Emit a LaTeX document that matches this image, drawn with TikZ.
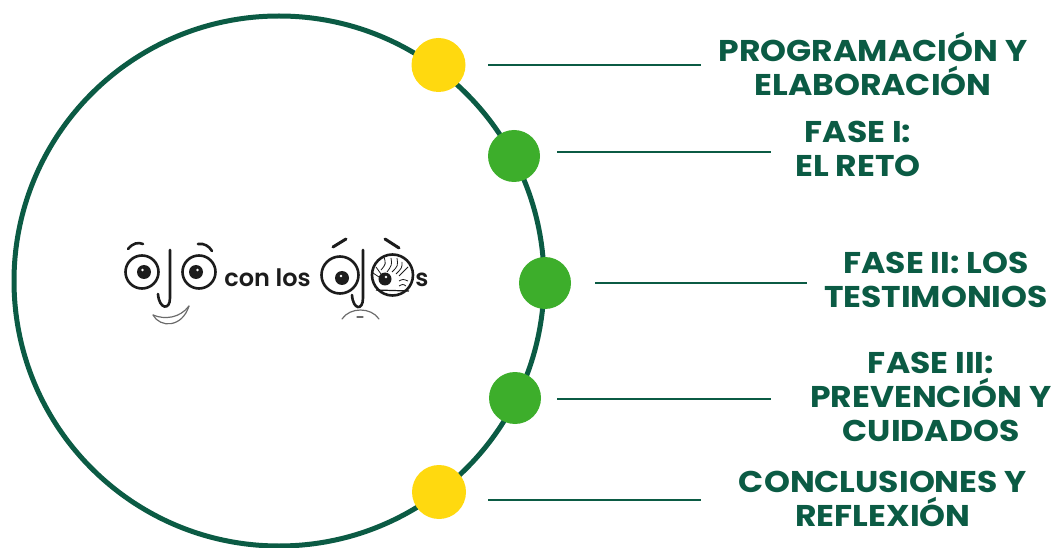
\documentclass[tikz,border=0pt]{standalone}
\usepackage{fontspec}
\setmainfont{Poppins}
\newfontfamily\labfont[FakeStretch=1.10]{Poppins Bold}
\newfontfamily\wordfont{Poppins SemiBold}
\definecolor{dgreen}{HTML}{0B5B44}
\definecolor{ink}{HTML}{1C1C1C}
\definecolor{yel}{HTML}{FFD90F}
\definecolor{grn}{HTML}{3DAE2B}
\tikzset{
 lab/.style={font=\labfont\fontsize{30}{34}\selectfont,text=dgreen,align=center,inner sep=0pt},
 dotY/.style={circle,fill=yel,minimum size=54,inner sep=0pt},
 dotG/.style={circle,fill=grn,minimum size=52,inner sep=0pt},
 conn/.style={draw=dgreen,line width=2.2},
 ring/.style={circle,draw=dgreen,line width=5,minimum size=530,inner sep=0pt},
 fc/.style={draw=ink,line width=2.6,line cap=round},
 fcg/.style={draw=ink!65,line width=1.2,line cap=round},
 word/.style={font=\wordfont\fontsize{24}{26}\selectfont,text=ink,inner sep=0pt}
}
\begin{document}
\begin{tikzpicture}[x=1pt,y=-1pt]
\useasboundingbox (0,0) rectangle (1061,548);
\node[ring] (big) at (279,281) {};
\node[dotY] (d1) at (438.5,65) {};
\node[dotG] (d2) at (514,156) {};
\node[dotG] (d3) at (545,283) {};
\node[dotG] (d4) at (515,398) {};
\node[dotY] (d5) at (439,492) {};
\coordinate (s1) at (488,65); \coordinate (e1) at (701,65);
\coordinate (s2) at (557,152); \coordinate (e2) at (771,152);
\coordinate (s3) at (595,283); \coordinate (e3) at (807,283);
\coordinate (s4) at (557,399); \coordinate (e4) at (771,399);
\coordinate (s5) at (488,500); \coordinate (e5) at (701,500);
\foreach \i in {1,...,5} \draw[conn] (s\i) -- (e\i);
\node[lab] (t1) at (873,64) {PROGRAMACIÓN Y\\ELABORACIÓN};
\node[lab] (t2) at (858,149) {FASE I:\\EL RETO};
\node[lab] (t3) at (936,280) {FASE II: LOS\\TESTIMONIOS};
\node[lab] (t4) at (931,397) {FASE III:\\PREVENCIÓN Y\\CUIDADOS};
\node[lab] (t5) at (883,499) {CONCLUSIONES Y\\REFLEXIÓN};
% first face
\draw[fc] (142,272) circle (16.5);
\draw[fc] (199,272) circle (16.5);
\fill[ink] (144,272) circle (7);
\fill[ink] (196,272) circle (7);
\fill[white] (142.5,270) circle (1.4);
\fill[white] (197.5,270) circle (1.4);
\draw[fc] (128,249) .. controls (133,243) and (138,242) .. (143,244);
\draw[fc] (198,244) .. controls (204,243) and (209,246) .. (212,251);
\draw[fc] (170,250) -- (170,298) .. controls (170,311) and (159,309) .. (158,294);
\draw[fcg] (153,315) .. controls (160,328) and (182,328) .. (189,306);
\draw[fcg] (153,315) .. controls (165,320) and (180,318) .. (189,306);
\node[word] (w1) at (267.5,278) {con los};
% second face
\draw[fc] (340,275) circle (18.5);
\draw[fc] (392.5,275) circle (20.5);
\fill[ink] (342,278) circle (7);
\fill[ink] (385,279) circle (6.5);
\fill[white] (341,276) circle (1.3);
\fill[white] (386,277) circle (1.3);
\draw[fc,line width=3] (333,247) -- (346,239);
\draw[fc,line width=3] (385,239) -- (399,248);
\draw[fc] (363,250) -- (363,298) .. controls (363,311) and (353,310) .. (352,295);
\draw[fcg] (342,319) .. controls (350,307) and (371,307) .. (379,319);
\draw[fcg] (357,317) -- (363,317);
\foreach \a/\b/\c/\d/\e/\f in {384/257/386/264/381/270, 391/258/392/265/387/272, 397/258/398/266/392/272, 402/262/402/268/396/274, 408/267/404/272/399/276, 376/267/379/271/381/274, 373/273/376/275/379/277}
  \draw[ink,line width=.8] (\a,\b) .. controls (\c,\d) .. (\e,\f);
\draw[ink,line width=.8] (399,281) .. controls (403,279) .. (408,281) (399,286) .. controls (403,284) .. (406,286);
\draw[ink,line width=1.2] (376,290) -- (409,291);
\node[word] (w2) at (422,280) {s};
\end{tikzpicture}
\end{document}
